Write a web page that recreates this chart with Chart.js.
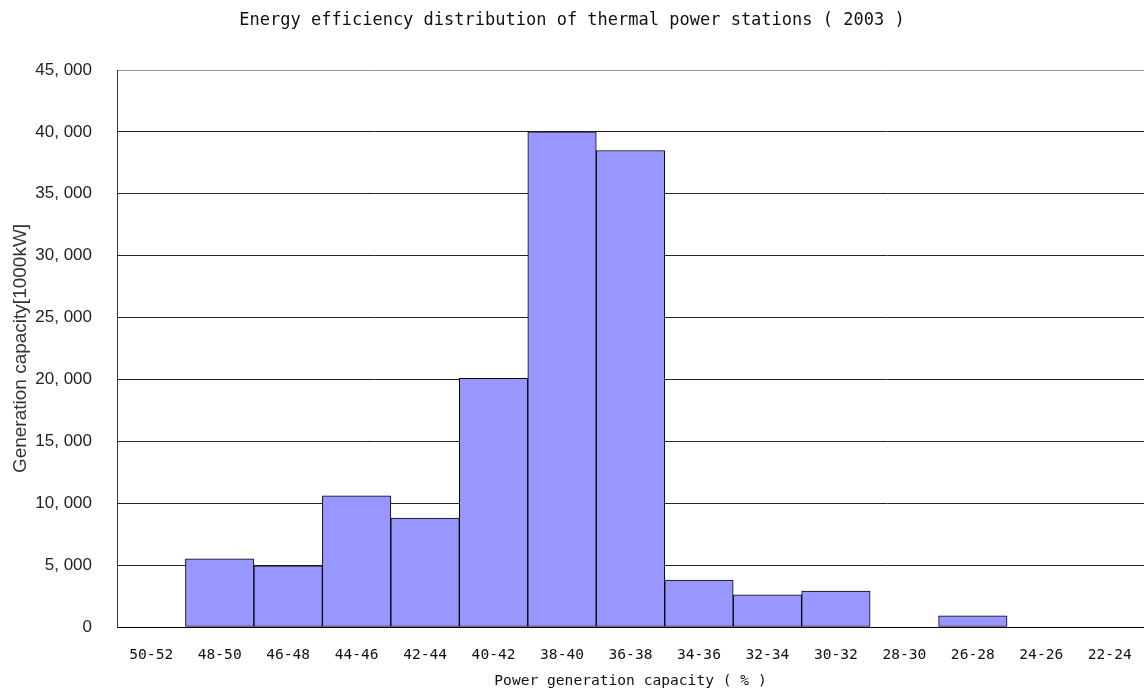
<!DOCTYPE html>
<html lang="en">
<head>
    <meta charset="UTF-8">
    <title>Energy efficiency distribution of thermal power stations</title>
    <script src="https://cdn.jsdelivr.net/npm/chart.js"></script>
    <style>
        body { margin: 0; background: white; }
        canvas { display: block; }
    </style>
</head>
<body>
    <canvas id="grafico" width="1144" height="695"></canvas>

    <script>
        // efficiency bins (%) and capacity per bin [1000kW]
        let bins = ['50-52', '48-50', '46-48', '44-46', '42-44', '40-42', '38-40', '36-38',
                    '34-36', '32-34', '30-32', '28-30', '26-28', '24-26', '22-24'];
        let capacity = [0, 5500, 4950, 10600, 8800, 20100, 40000, 38500,
                        3800, 2600, 2900, 0, 900, 0, 0];

        let mono = "'DejaVu Sans Mono', monospace";
        let sans = "'Liberation Sans', Arial, sans-serif";

        let ctx = document.getElementById('grafico').getContext('2d');
        let chart = new Chart(ctx, {
            type: 'bar',
            data: {
                labels: bins,
                datasets: [{
                    data: capacity,
                    backgroundColor: '#9797ff',
                    borderColor: '#000000',
                    borderWidth: 1,
                    borderSkipped: false,
                    barPercentage: 1.0,
                    categoryPercentage: 1.0
                }]
            },
            options: {
                responsive: false,
                animation: false,
                layout: { padding: 0 },
                scales: {
                    x: {
                        grid: { display: false, drawTicks: false },
                        border: { color: '#000', width: 1 },
                        ticks: { color: '#111', font: { family: mono, size: 14.6 }, padding: 19, maxRotation: 0 },
                        title: {
                            display: true,
                            text: 'Power generation capacity ( % )',
                            color: '#111',
                            font: { family: mono, size: 14.6 },
                            padding: { top: 0, bottom: 5 }
                        },
                        afterFit: function (scale) {
                            scale.height = 68;
                            scale.paddingLeft = 0;
                            scale.paddingRight = 0;
                        }
                    },
                    y: {
                        min: 0,
                        max: 45000,
                        grid: {
                            drawTicks: false,
                            color: function (c) { return c.tick && c.tick.value === 45000 ? '#999' : '#222'; }
                        },
                        border: { color: '#333', width: 1 },
                        ticks: {
                            stepSize: 5000,
                            color: '#222',
                            padding: 25,
                            font: { family: sans, size: 17 },
                            callback: function (v) {
                                return v >= 1000 ? Math.floor(v / 1000) + ', ' + String(v % 1000).padStart(3, '0') : String(v);
                            }
                        },
                        title: {
                            display: true,
                            text: 'Generation capacity[1000kW]',
                            color: '#333',
                            font: { family: sans, size: 19 },
                            padding: { top: 9, bottom: 0 }
                        },
                        afterFit: function (scale) { scale.width = 117; }
                    }
                },
                plugins: {
                    legend: { display: false },
                    tooltip: { enabled: false },
                    title: {
                        display: true,
                        text: 'Energy efficiency distribution of thermal power stations ( 2003 )',
                        color: '#111',
                        font: { family: mono, size: 17, weight: 'normal' },
                        padding: { top: 10, bottom: 39.6 }
                    }
                }
            }
        });
    </script>
</body>
</html>
